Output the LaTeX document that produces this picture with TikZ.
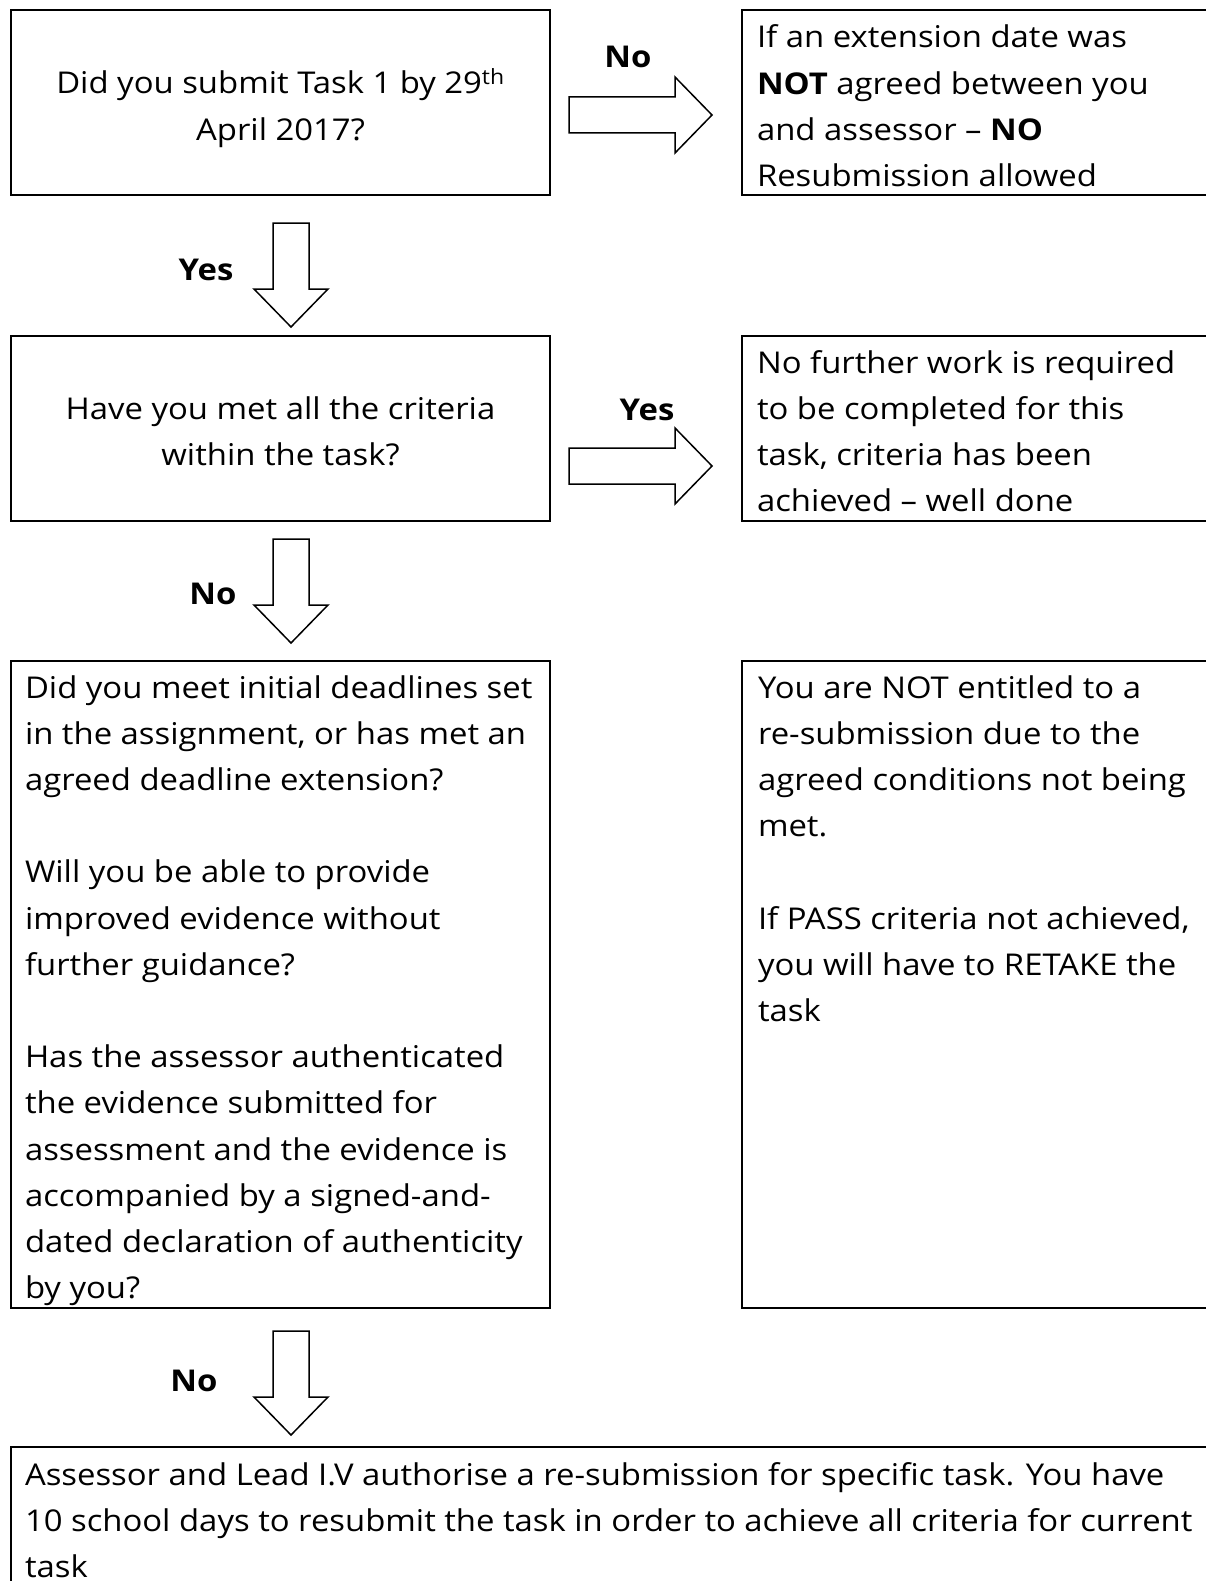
\documentclass[tikz,border=0pt]{standalone}
\usepackage{fontspec}
\setmainfont{Open Sans}[FakeStretch=1.095]
\begin{document}
\begin{tikzpicture}[x=1pt,y=-1pt,
  box/.style={draw=black, line width=2pt, fill=none},
  txt/.style={inner sep=0pt, outer sep=0pt, font=\fontsize{30}{46.2}\selectfont},
  ltxt/.style={txt, align=left, anchor=base west},
  ctxt/.style={txt, align=center, anchor=base},
  lbl/.style={inner sep=0pt, font=\fontsize{30}{36}\selectfont\bfseries, anchor=base},
  arrowline/.style={draw=black, line width=1.5pt, line join=miter, fill=white},
  downarr/.pic={\path[arrowline] (-18,0) -- (18,0) -- (18,66) -- (37,66) -- (0,104) -- (-37,66) -- (-18,66) -- cycle;},
  rightarr/.pic={\path[arrowline] (0,-18) -- (106,-18) -- (106,-38) -- (143,0) -- (106,38) -- (106,18) -- (0,18) -- cycle;}
]
\useasboundingbox[fill=white] (0,0) rectangle (1206,1581);
\clip (0,0) rectangle (1206,1581);

% boxes
\draw[box] (11,10) rectangle (550,195);
\draw[box] (742,10) rectangle (1214,195);
\draw[box] (11,336) rectangle (550,521);
\draw[box] (742,336) rectangle (1214,521);
\draw[box] (11,661) rectangle (550,1308);
\draw[box] (742,661) rectangle (1214,1308);
\draw[box] (11,1447) rectangle (1214,1595);

% texts (anchor = baseline of the last line)
\node[ctxt] (q1) at (280.5,140.2) {Did you submit Task 1 by 29\textsuperscript{th}\\April 2017?};
\node[ltxt] (r1) at (757,186.6) {If an extension date was\\\textbf{NOT} agreed between you\\and assessor – \textbf{NO}\\Resubmission allowed};
\node[ctxt] (q2) at (280.5,465.2) {Have you met all the criteria\\within the task?};
\node[ltxt] (r2) at (757,511.6) {No further work is required\\to be completed for this\\task, criteria has been\\achieved – well done};
\node[ltxt] (q3) at (25,1298.6) {Did you meet initial deadlines set\\in the assignment, or has met an\\agreed deadline extension?\\\mbox{}\\Will you be able to provide\\improved evidence without\\further guidance?\\\mbox{}\\Has the assessor authenticated\\the evidence submitted for\\assessment and the evidence is\\accompanied by a signed-and-\\dated declaration of authenticity\\by you?};
\node[ltxt] (r3) at (758,1021.4) {You are NOT entitled to a\\re-submission due to the\\agreed conditions not being\\met.\\\mbox{}\\If PASS criteria not achieved,\\you will have to RETAKE the\\task};
\node[ltxt] (fin) at (25,1577.4) {Assessor and Lead I.V authorise a re-submission for specific task. You have\\10 school days to resubmit the task in order to achieve all criteria for current\\task};

% block arrows
\pic (a1) at (569,115) {rightarr};
\pic (a2) at (291,223) {downarr};
\pic (a3) at (569,466) {rightarr};
\pic (a4) at (291,539) {downarr};
\pic (a5) at (291,1331) {downarr};

% labels
\node[lbl] (l1) at (628,68) {No};
\node[lbl] (l2) at (206,280) {Yes};
\node[lbl] (l3) at (647,420) {Yes};
\node[lbl] (l4) at (213,604) {No};
\node[lbl] (l5) at (194,1391) {No};
\end{tikzpicture}
\end{document}
